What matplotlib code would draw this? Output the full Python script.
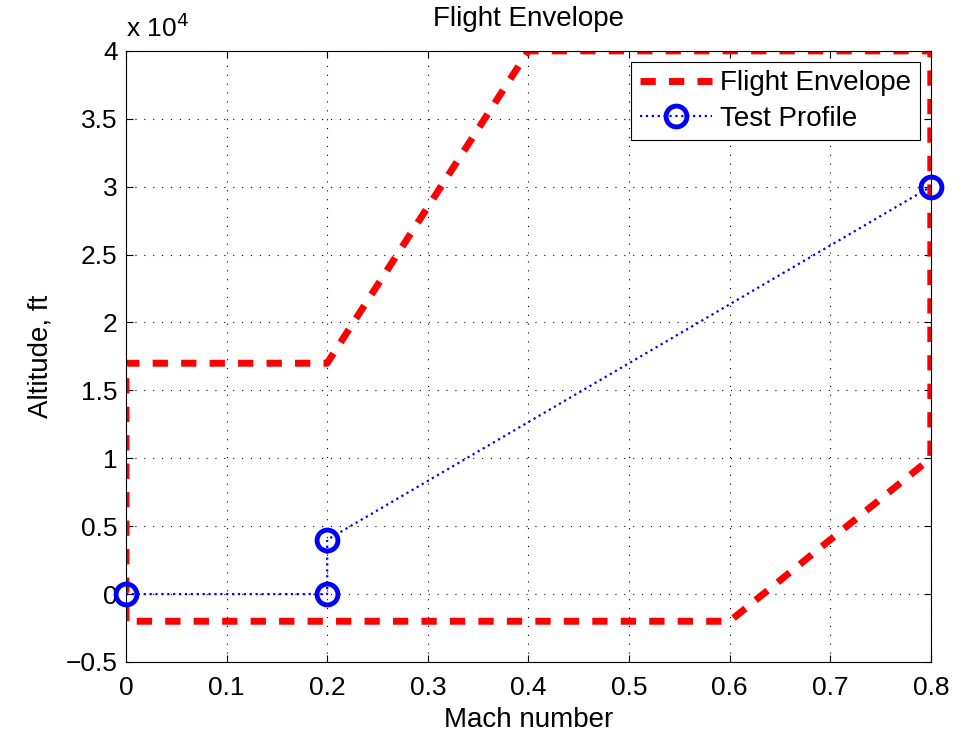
import matplotlib.pyplot as plt
from matplotlib.ticker import FuncFormatter

plt.rcParams['font.family'] = ['Liberation Sans', 'DejaVu Sans']

# flight envelope corners (Mach, ft)
env_mach = [0, 0, 0.2, 0.4, 0.8, 0.8, 0.6, 0]
env_alt = [-2000, 17000, 17000, 40000, 40000, 10000, -2000, -2000]
# test profile points
test_mach = [0, 0.2, 0.2, 0.8]
test_alt = [0, 0, 4000, 30000]

fig = plt.figure(figsize=(9.72, 7.31), dpi=100)
ax = fig.add_axes([0.1296, 0.0944, 0.828, 0.836])

# envelope is clipped at the axes box, the profile markers are not
ax.plot(env_mach, env_alt, color='red', linestyle=(0, (2.2, 1.9)), linewidth=5,
        label='Flight Envelope')
ax.plot(test_mach, test_alt, color='blue', linestyle=':', linewidth=1.6,
        marker='o', markersize=15, markerfacecolor='none', markeredgewidth=3.5,
        label='Test Profile', clip_on=False, zorder=3)

ax.set_xlim(0, 0.8)
ax.set_ylim(-5000, 40000)
ax.set_xticks([0, 0.1, 0.2, 0.3, 0.4, 0.5, 0.6, 0.7, 0.8])
ax.set_yticks(range(-5000, 40001, 5000))
ax.xaxis.set_major_formatter(FuncFormatter(lambda v, p: '%g' % round(v, 2)))
ax.yaxis.set_major_formatter(FuncFormatter(lambda v, p: ('%g' % (v / 1e4)).replace('-', '\u2212')))
ax.tick_params(labelsize=19, direction='in', length=5, top=True, right=True)
ax.tick_params(axis='x', pad=10)
ax.tick_params(axis='y', pad=6)
ax.grid(True, color='black', linestyle=(0, (1, 7)), linewidth=0.8)

ax.text(0, 1.015, 'x 10$^4$', transform=ax.transAxes, fontsize=19, va='bottom', ha='left')
ax.set_title('Flight Envelope', fontsize=20, pad=18)
ax.set_xlabel('Mach number', fontsize=20, labelpad=5)
ax.set_ylabel('Altitude, ft', fontsize=20, labelpad=9)

leg = ax.legend(loc='upper right', fontsize=20, fancybox=False, framealpha=1,
                edgecolor='black', handlelength=2.6, handletextpad=0.3,
                borderpad=0.3, labelspacing=0.35, borderaxespad=0.4)
leg.get_frame().set_linewidth(0.8)

plt.savefig('out.png')
